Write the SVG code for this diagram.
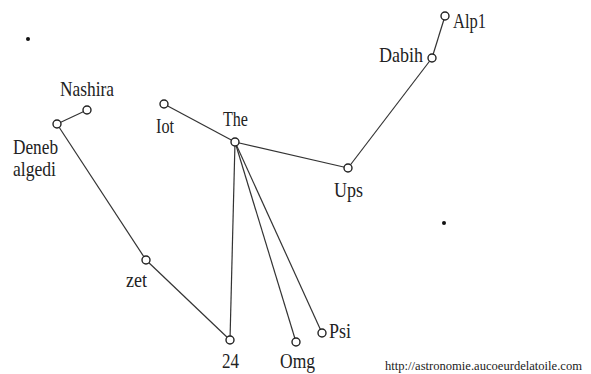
<svg xmlns="http://www.w3.org/2000/svg" width="591" height="374" viewBox="0 0 591 374">
<style>
.e{stroke:#333;stroke-width:1.2;fill:none}
.s{fill:#fff;stroke:#222;stroke-width:1.4}
.l{font-family:"Liberation Serif",serif;font-size:21px;fill:#222}
.u{font-family:"Liberation Serif",serif;font-size:13px;fill:#222}
</style>
<rect width="591" height="374" fill="#fff"/>
<g id="connectors">
<line class="e" x1="87" y1="110" x2="57" y2="124"/>
<line class="e" x1="57" y1="124" x2="146" y2="260"/>
<line class="e" x1="146" y1="260" x2="230" y2="340"/>
<line class="e" x1="230" y1="340" x2="235" y2="142"/>
<line class="e" x1="164" y1="104" x2="235" y2="142"/>
<line class="e" x1="235" y1="142" x2="296" y2="342"/>
<line class="e" x1="235" y1="142" x2="322" y2="333"/>
<line class="e" x1="235" y1="142" x2="348" y2="168"/>
<line class="e" x1="348" y1="168" x2="432" y2="58"/>
<line class="e" x1="432" y1="58" x2="445" y2="16"/>
</g>
<g id="nashira"><circle class="s" cx="87" cy="110" r="4"/><text class="l" x="60" y="96" textLength="54" lengthAdjust="spacingAndGlyphs">Nashira</text></g>
<g id="deneb-algedi"><circle class="s" cx="57" cy="124" r="4"/><text class="l" x="13" y="154" textLength="45" lengthAdjust="spacingAndGlyphs">Deneb</text><text class="l" x="13" y="176" textLength="43" lengthAdjust="spacingAndGlyphs">algedi</text></g>
<g id="iot"><circle class="s" cx="164" cy="104" r="4"/><text class="l" x="156" y="133" textLength="18" lengthAdjust="spacingAndGlyphs">Iot</text></g>
<g id="the"><circle class="s" cx="235" cy="142" r="4"/><text class="l" x="223" y="126" textLength="25" lengthAdjust="spacingAndGlyphs">The</text></g>
<g id="ups"><circle class="s" cx="348" cy="168" r="4"/><text class="l" x="334" y="197" textLength="29" lengthAdjust="spacingAndGlyphs">Ups</text></g>
<g id="dabih"><circle class="s" cx="432" cy="58" r="4"/><text class="l" x="379" y="62" textLength="44" lengthAdjust="spacingAndGlyphs">Dabih</text></g>
<g id="alp1"><circle class="s" cx="445" cy="16" r="4"/><text class="l" x="453" y="28" textLength="33" lengthAdjust="spacingAndGlyphs">Alp1</text></g>
<g id="zet"><circle class="s" cx="146" cy="260" r="4"/><text class="l" x="126" y="287" textLength="21" lengthAdjust="spacingAndGlyphs">zet</text></g>
<g id="n24"><circle class="s" cx="230" cy="340" r="4"/><text class="l" x="222" y="368" textLength="17" lengthAdjust="spacingAndGlyphs">24</text></g>
<g id="omg"><circle class="s" cx="296" cy="342" r="4"/><text class="l" x="280" y="368" textLength="35" lengthAdjust="spacingAndGlyphs">Omg</text></g>
<g id="psi"><circle class="s" cx="322" cy="333" r="4"/><text class="l" x="329" y="338" textLength="22" lengthAdjust="spacingAndGlyphs">Psi</text></g>
<g id="dot1"><circle cx="28" cy="39" r="2" fill="#111"/></g>
<g id="dot2"><circle cx="444" cy="223" r="2" fill="#111"/></g>
<text class="u" x="385" y="370" textLength="197" lengthAdjust="spacingAndGlyphs">http://astronomie.aucoeurdelatoile.com</text>
</svg>
